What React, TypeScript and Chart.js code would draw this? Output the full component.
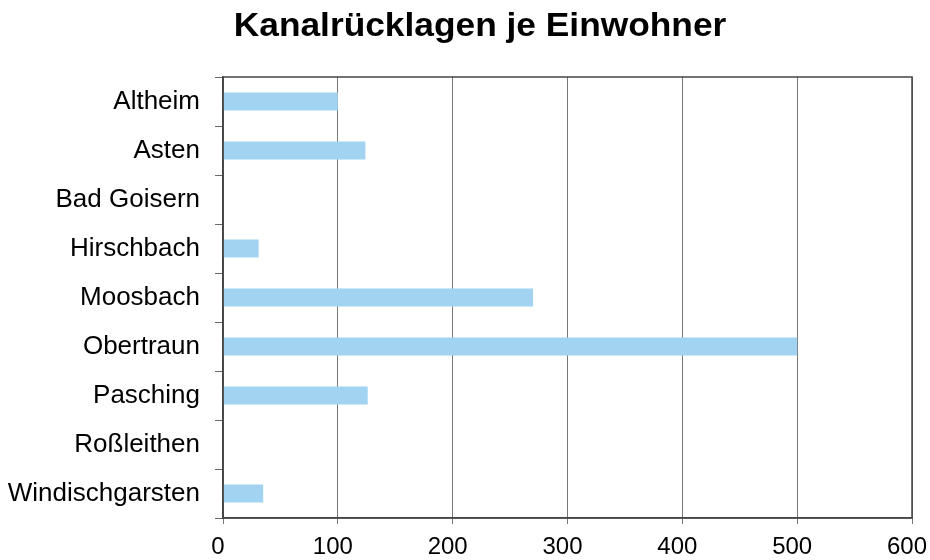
import React, { useEffect, useRef } from "react";
import { Chart, registerables } from "chart.js";

Chart.register(...registerables);

const TITLE = "Kanalrücklagen je Einwohner";
const categories = [
  "Altheim",
  "Asten",
  "Bad Goisern",
  "Hirschbach",
  "Moosbach",
  "Obertraun",
  "Pasching",
  "Roßleithen",
  "Windischgarsten",
];
const values = [100, 124, 0, 31, 270, 500, 126, 0, 35];
const xMin = 0;
const xMax = 600;
const xStep = 100;

const FONT = "Liberation Sans, Arial, sans-serif";

const framePlugin = {
  id: "frame",
  afterDraw(chart: any) {
    const { ctx, chartArea } = chart;
    ctx.save();
    ctx.strokeStyle = "#444";
    ctx.lineWidth = 1.5;
    ctx.strokeRect(chartArea.left, chartArea.top, chartArea.right - chartArea.left, chartArea.bottom - chartArea.top);
    ctx.restore();
  },
};

const titlePlugin = {
  id: "stretchedTitle",
  afterDraw(chart: any) {
    const { ctx } = chart;
    ctx.save();
    ctx.font = `bold 33px ${FONT}`;
    ctx.fillStyle = "#000";
    ctx.textAlign = "center";
    ctx.textBaseline = "alphabetic";
    ctx.translate(480, 36);
    ctx.scale(1.07, 1);
    ctx.fillText(TITLE, 0, 0);
    ctx.restore();
  },
};

export default function App() {
  const ref = useRef<HTMLCanvasElement | null>(null);
  useEffect(() => {
    if (!ref.current) return;
    const chart = new Chart(ref.current, {
      type: "bar",
      data: {
        labels: categories,
        datasets: [
          {
            data: values,
            backgroundColor: "#a2d4f2",
            borderWidth: 0,
            barPercentage: 0.37,
            categoryPercentage: 1,
          },
        ],
      },
      options: {
        indexAxis: "y",
        animation: false,
        responsive: false,
        maintainAspectRatio: false,
        layout: { padding: { left: 8, right: 0, top: 77, bottom: 0 } },
        plugins: {
          legend: { display: false },
          tooltip: { enabled: false },
          title: { display: false },
        },
        scales: {
          x: {
            min: xMin,
            max: xMax,
            afterFit(scale: any) {
              scale.height = 42;
              scale.paddingRight = 18;
              scale.paddingLeft = 0;
            },
            ticks: {
              stepSize: xStep,
              color: "#000",
              font: { family: FONT, size: 24 },
              padding: 9,
              labelOffset: -5,
            },
            grid: { color: "#777", lineWidth: 1, tickLength: 6, drawTicks: true },
            border: { color: "#444", width: 1.5 },
          },
          y: {
            afterFit(scale: any) {
              scale.width = 215;
            },
            ticks: {
              color: "#000",
              font: { family: FONT, size: 26 },
              padding: 15,
            },
            grid: { drawOnChartArea: false, offset: true, tickLength: 8, color: "#666" },
            border: { color: "#444", width: 1.5 },
          },
        },
      },
      plugins: [framePlugin, titlePlugin],
    });
    return () => chart.destroy();
  }, []);
  return (
    <div style={{ position: "fixed", left: 0, top: 0, width: 930, height: 560, background: "#fff" }}>
      <canvas ref={ref} width={930} height={560} />
    </div>
  );
}
